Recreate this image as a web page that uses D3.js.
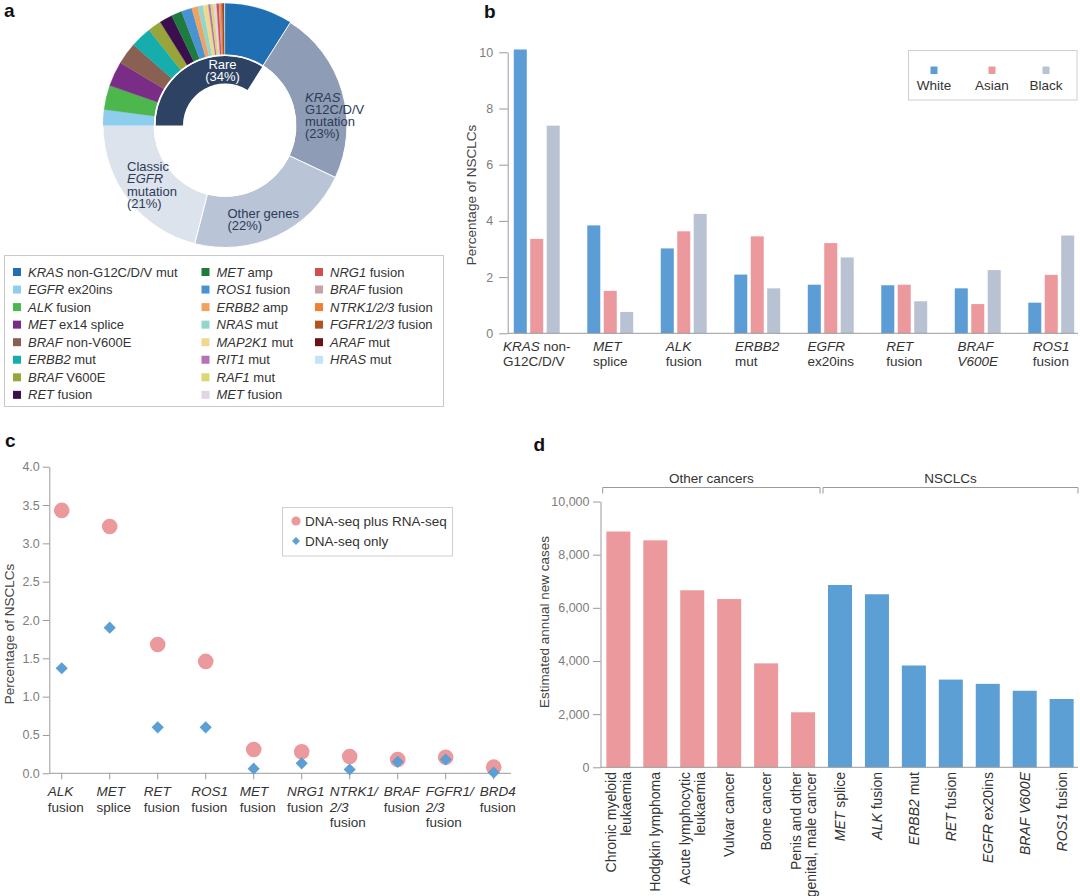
<!DOCTYPE html>
<html><head><meta charset="utf-8">
<script src="https://cdn.jsdelivr.net/npm/d3@7"></script>
<style>
body{margin:0;background:#fff;}
svg{font-family:"Liberation Sans",Arial,sans-serif;}
</style></head><body>
<svg id="chart" width="1080" height="896"></svg>
<script>
// ---------- Panel a data ----------
const rareNames = ["*KRAS* non-G12C/D/V mut","*EGFR* ex20ins","*ALK* fusion","*MET* ex14 splice","*BRAF* non-V600E","*ERBB2* mut","*BRAF* V600E","*RET* fusion","*MET* amp","*ROS1* fusion","*ERBB2* amp","*NRAS* mut","*MAP2K1* mut","*RIT1* mut","*RAF1* mut","*MET* fusion","*NRG1* fusion","*BRAF* fusion","*NTRK1/2/3* fusion","*FGFR1/2/3* fusion","*ARAF* mut","*HRAS* mut"];
const rareValues = [9.0,2.1,3.2,3.3,2.9,2.8,1.8,1.7,1.4,1.4,0.8,0.7,0.7,0.3,0.4,0.4,0.3,0.2,0.2,0.2,0.1,0.1];
const rareColors = ["#1f6fb2","#8fcdee","#4db74e","#7a2d87","#8a6052","#16adad","#97a53a","#3b0f4d","#1e7a3e","#4a92d2","#f0a263","#93d6cb","#f0d98f","#b573b5","#d9d874","#e3d3e3","#d24f4f","#c9a3a3","#f07f2e","#b3531f","#6b1214","#c3e4f5"];
const mainNames = ["KRAS G12C/D/V mutation","Other genes","Classic EGFR mutation"];
const mainValues = [23,22,21];
const mainColors = ["#8e9cb6","#b9c4d7","#dde3ec"];
const rareTotal = 34;
const rareInnerColor = "#2e4263";

// ---------- Panel b data ----------
const bGenes = ["KRAS non-G12C/D/V","MET splice","ALK fusion","ERBB2 mut","EGFR ex20ins","RET fusion","BRAF V600E","ROS1 fusion"];
const bLabels = [["*KRAS* non-","G12C/D/V"],["*MET*","splice"],["*ALK*","fusion"],["*ERBB2*","mut"],["*EGFR*","ex20ins"],["*RET*","fusion"],["*BRAF*","*V600E*"],["*ROS1*","fusion"]];
const bGroups = ["White","Asian","Black"];
const bWhite = [10.1,3.84,3.02,2.09,1.73,1.71,1.60,1.09];
const bAsian = [3.36,1.51,3.63,3.45,3.21,1.73,1.04,2.08];
const bBlack = [7.39,0.76,4.25,1.60,2.70,1.14,2.25,3.48];
const bColors = ["#5b9dd4","#ec999d","#b9c2d3"];
const bTicks = [0,2,4,6,8,10];

// ---------- Panel c data ----------
const cGenes = ["ALK fusion","MET splice","RET fusion","ROS1 fusion","MET fusion","NRG1 fusion","NTRK1/2/3 fusion","BRAF fusion","FGFR1/2/3 fusion","BRD4 fusion"];
const cLabels = [["*ALK*","fusion"],["*MET*","splice"],["*RET*","fusion"],["*ROS1*","fusion"],["*MET*","fusion"],["*NRG1*","fusion"],["*NTRK1/*","*2/3*","fusion"],["*BRAF*","fusion"],["*FGFR1/*","*2/3*","fusion"],["*BRD4*","fusion"]];
const cDnaRna = [3.43,3.22,1.68,1.46,0.31,0.28,0.22,0.18,0.21,0.08];
const cDnaOnly = [1.37,1.90,0.60,0.60,0.06,0.13,0.05,0.15,0.18,0.01];
const cSeries = ["DNA-seq plus RNA-seq","DNA-seq only"];
const cTicks = [0,0.5,1,1.5,2,2.5,3,3.5,4];

// ---------- Panel d data ----------
const dCats = ["Chronic myeloid leukaemia","Hodgkin lymphoma","Acute lymphocytic leukaemia","Vulvar cancer","Bone cancer","Penis and other genital, male cancer","MET splice","ALK fusion","ERBB2 mut","RET fusion","EGFR ex20ins","BRAF V600E","ROS1 fusion"];
const dLabels = [["Chronic myeloid","leukaemia"],["Hodgkin lymphoma"],["Acute lymphocytic","leukaemia"],["Vulvar cancer"],["Bone cancer"],["Penis and other","genital, male cancer"],["*MET* splice"],["*ALK* fusion"],["*ERBB2* mut"],["*RET* fusion"],["*EGFR* ex20ins"],["*BRAF V600E*"],["*ROS1* fusion"]];
const dValues = [8870,8540,6660,6330,3910,2070,6860,6510,3830,3300,3140,2880,2570];
const dGroupNames = ["Other cancers","NSCLCs"];
const dGroupOf = [0,0,0,0,0,0,1,1,1,1,1,1,1];
const dColors = ["#ec999d","#5b9fd4"];
const dTicks = [0,2000,4000,6000,8000,10000];

// ---------- helpers ----------
const svg = d3.select("#chart");
const TXT = "#333";
function rich(t, str){
  str.split("*").forEach((p,i)=>{ if(!p) return; const s=t.append("tspan").text(p); if(i%2) s.attr("font-style","italic"); });
  return t;
}
function blockLabel(g, lines, cx, baselines, fs){
  const ts = lines.map((ln,i)=> rich(g.append("text").attr("y",baselines[i]).attr("font-size",fs).attr("fill",TXT), ln));
  const w = d3.max(ts, t=>t.node().getComputedTextLength());
  ts.forEach(t=>t.attr("x", cx - w/2));
}
function styleAxis(g){
  g.selectAll("path,line").attr("stroke","#9a9a9a").attr("stroke-width",1);
  g.selectAll("text").attr("fill","#7d7d7d").attr("font-size",12.5).attr("font-family","Liberation Sans, Arial, sans-serif");
}
function letter(txt,x,y){ svg.append("text").attr("x",x).attr("y",y).attr("font-weight","bold").attr("font-size",19).attr("fill","#111").text(txt); }

// ================= Panel a =================
letter("a",4,17);
const cx=225, cy=125.5, R=122, r1=71;
const gA = svg.append("g").attr("transform",`translate(${cx},${cy})`);
const pieData = [{name:rareNames[0],value:rareValues[0],color:rareColors[0],main:false}]
  .concat(mainNames.map((n,i)=>({name:n,value:mainValues[i],color:mainColors[i],main:true})))
  .concat(rareNames.slice(1).map((n,i)=>({name:n,value:rareValues[i+1],color:rareColors[i+1],main:false})));
const pie = d3.pie().value(d=>d.value).sort(null);
const arcO = d3.arc().innerRadius(r1).outerRadius(R);
gA.selectAll("path.sl").data(pie(pieData)).join("path").attr("class","sl")
  .attr("d",arcO).attr("fill",d=>d.data.color)
  .attr("stroke",d=>d.data.main?"#fff":d.data.color).attr("stroke-width",d=>d.data.main?1:0.3);
const total = d3.sum(pieData,d=>d.value);
const aStart = -(rareTotal - rareValues[0])/total*2*Math.PI;
const aEnd = rareValues[0]/total*2*Math.PI;
gA.append("path").attr("d", d3.arc().innerRadius(42).outerRadius(69.5).startAngle(aStart).endAngle(aEnd)()).attr("fill",rareInnerColor);
gA.append("circle").attr("r",70.3).attr("fill","none").attr("stroke","#fff").attr("stroke-width",1.6);

const lblFill = "#2d3b57";
function lines(x, ys, arr, anchor, fill){
  arr.forEach((s,i)=> rich(svg.append("text").attr("x",x).attr("y",ys[i]).attr("font-size",13).attr("fill",fill).attr("text-anchor",anchor), s));
}
lines(222.5,[68.5,80.5],["Rare","(34%)"],"middle","#fff");
lines(305,[102,114,126,138],["*KRAS*","G12C/D/V","mutation","(23%)"],"start",lblFill);
lines(227.5,[217.5,229.5],["Other genes","(22%)"],"start",lblFill);
lines(127,[170.5,183,195.5,207.5],["Classic","*EGFR*","mutation","(21%)"],"start",lblFill);

// legend a
svg.append("rect").attr("x",4.5).attr("y",255.5).attr("width",439).attr("height",151).attr("fill","none").attr("stroke","#c9c9c9");
const legCols = [13,201.5,315];
const colCounts = [8,8,6];
let idx=0;
colCounts.forEach((n,c)=>{
  for(let r=0;r<n;r++,idx++){
    const yc = 272 + r*17.55;
    svg.append("rect").attr("x",legCols[c]).attr("y",yc-4).attr("width",8).attr("height",8).attr("fill",rareColors[idx]);
    rich(svg.append("text").attr("x",legCols[c]+15).attr("y",yc+4.6).attr("font-size",13).attr("fill",TXT), rareNames[idx]);
  }
});

// ================= Panel b =================
letter("b",484,18);
const yB = d3.scaleLinear().domain([0,10]).range([333.3,52.3]);
const xB = d3.scaleBand().domain(bGenes).range([500,1088]).paddingInner(0.375).paddingOuter(0.1875);
const xBs = d3.scaleBand().domain(bGroups).range([0,xB.bandwidth()]).paddingInner(0.21);
const bSeries = [bWhite,bAsian,bBlack];
const gB = svg.append("g");
bGroups.forEach((grp,gi)=>{
  gB.selectAll(null).data(bGenes).join("rect")
    .attr("x",d=>xB(d)+xBs(grp)).attr("width",xBs.bandwidth())
    .attr("y",(d,i)=>yB(bSeries[gi][i])).attr("height",(d,i)=>yB(0)-yB(bSeries[gi][i]))
    .attr("fill",bColors[gi]);
});
const axB = svg.append("g").attr("transform","translate(507.7,0)")
  .call(d3.axisLeft(yB).tickValues(bTicks).tickSize(8.5).tickPadding(6).tickSizeOuter(0).tickFormat(d3.format("d")));
styleAxis(axB);
svg.append("line").attr("x1",507.7).attr("x2",1078).attr("y1",yB(0)).attr("y2",yB(0)).attr("stroke","#9a9a9a");
bGenes.forEach((g,i)=> blockLabel(svg, bLabels[i], xB(g)+xB.bandwidth()/2, [350.5,366], 13.5));
svg.append("text").attr("transform","translate(471,195) rotate(-90)").attr("text-anchor","middle").attr("dy","0.35em")
  .attr("font-size",13.5).attr("fill","#444").text("Percentage of NSCLCs");
svg.append("rect").attr("x",908.5).attr("y",50.5).attr("width",168.5).attr("height",49.5).attr("fill","#fff").attr("stroke","#cfcfcf");
const bLegX = [934,992,1046];
bGroups.forEach((g,i)=>{
  svg.append("rect").attr("x",bLegX[i]-3.5).attr("y",66.5).attr("width",7).attr("height",7.5).attr("fill",bColors[i]);
  svg.append("text").attr("x",bLegX[i]).attr("y",89.5).attr("text-anchor","middle").attr("font-size",13.5).attr("fill",TXT).text(g);
});

// ================= Panel c =================
letter("c",5,447);
const yC = d3.scaleLinear().domain([0,4]).range([773.3,466.7]);
const xC = d3.scalePoint().domain(cGenes).range([49,506.4]).padding(0.265);
const axC = svg.append("g").attr("transform","translate(49.3,0)")
  .call(d3.axisLeft(yC).tickValues(cTicks).tickSize(6.5).tickPadding(3).tickSizeOuter(0).tickFormat(d3.format(".1f")));
styleAxis(axC);
svg.append("line").attr("x1",49.3).attr("x2",511).attr("y1",yC(0)).attr("y2",yC(0)).attr("stroke","#9a9a9a");
svg.selectAll(null).data(cGenes).join("line").attr("x1",d=>xC(d)).attr("x2",d=>xC(d)).attr("y1",yC(0)).attr("y2",yC(0)+6).attr("stroke","#9a9a9a");
svg.selectAll(null).data(cGenes).join("circle").attr("cx",d=>xC(d)).attr("cy",(d,i)=>yC(cDnaRna[i])).attr("r",7.8).attr("fill",dColors[0]);
const diamond = d3.symbol(d3.symbolSquare).size(74);
svg.selectAll(null).data(cGenes).join("path").attr("d",diamond)
  .attr("transform",(d,i)=>`translate(${xC(d)},${yC(cDnaOnly[i])}) rotate(45)`).attr("fill",dColors[1]);
cGenes.forEach((g,i)=> blockLabel(svg, cLabels[i], xC(g)+4, [796,811.5,827], 13.5));
svg.append("text").attr("transform","translate(9,634) rotate(-90)").attr("text-anchor","middle").attr("dy","0.35em")
  .attr("font-size",13.5).attr("fill","#444").text("Percentage of NSCLCs");
svg.append("rect").attr("x",282.5).attr("y",507.5).attr("width",170).attr("height",48.5).attr("fill","#fff").attr("stroke","#cfcfcf");
svg.append("circle").attr("cx",296).attr("cy",521).attr("r",4.6).attr("fill",dColors[0]);
svg.append("path").attr("d",d3.symbol(d3.symbolSquare).size(32)).attr("transform","translate(296,541) rotate(45)").attr("fill",dColors[1]);
svg.append("text").attr("x",305).attr("y",525.7).attr("font-size",13.5).attr("fill",TXT).text(cSeries[0]);
svg.append("text").attr("x",305).attr("y",545.5).attr("font-size",13.5).attr("fill",TXT).text(cSeries[1]);

// ================= Panel d =================
letter("d",533.5,451);
const yD = d3.scaleLinear().domain([0,10000]).range([767.3,501.5]);
const xD = d3.scaleBand().domain(dCats).range([600,1080]).paddingInner(0.35).paddingOuter(0.172);
svg.selectAll(null).data(dCats).join("rect")
  .attr("x",d=>xD(d)).attr("width",xD.bandwidth())
  .attr("y",(d,i)=>yD(dValues[i])).attr("height",(d,i)=>yD(0)-yD(dValues[i]))
  .attr("fill",(d,i)=>dColors[dGroupOf[i]]);
const axD = svg.append("g").attr("transform","translate(600.5,0)")
  .call(d3.axisLeft(yD).tickValues(dTicks).tickSize(7.5).tickPadding(3.5).tickSizeOuter(0).tickFormat(d3.format(",")));
styleAxis(axD);
svg.append("line").attr("x1",600.5).attr("x2",1078).attr("y1",yD(0)).attr("y2",yD(0)).attr("stroke","#9a9a9a");
dCats.forEach((c,i)=>{
  const xc = xD(c)+xD.bandwidth()/2;
  const g = svg.append("g").attr("transform",`translate(${xc},772) rotate(-90)`);
  const n = dLabels[i].length;
  dLabels[i].forEach((ln,j)=>{
    const off = (j-(n-1)/2)*15;
    rich(g.append("text").attr("x",0).attr("y",off).attr("dy","0.36em").attr("text-anchor","end").attr("font-size",14).attr("fill",TXT), ln);
  });
});
svg.append("text").attr("transform","translate(544,622) rotate(-90)").attr("text-anchor","middle").attr("dy","0.35em")
  .attr("font-size",13.5).attr("fill","#444").text("Estimated annual new cases");
const bw = xD.bandwidth();
const split = (xD(dCats[5])+bw + xD(dCats[6]))/2;
const brackets = [[602.7, split-1.5],[split+1.5, 1078]];
brackets.forEach((b,i)=>{
  svg.append("path").attr("d",`M${b[0]},493.5V487.5H${b[1]}V493.5`).attr("fill","none").attr("stroke","#9a9a9a");
  svg.append("text").attr("x",(b[0]+b[1])/2).attr("y",483).attr("text-anchor","middle").attr("font-size",13.5).attr("fill",TXT).text(dGroupNames[i]);
});
</script>
</body></html>
